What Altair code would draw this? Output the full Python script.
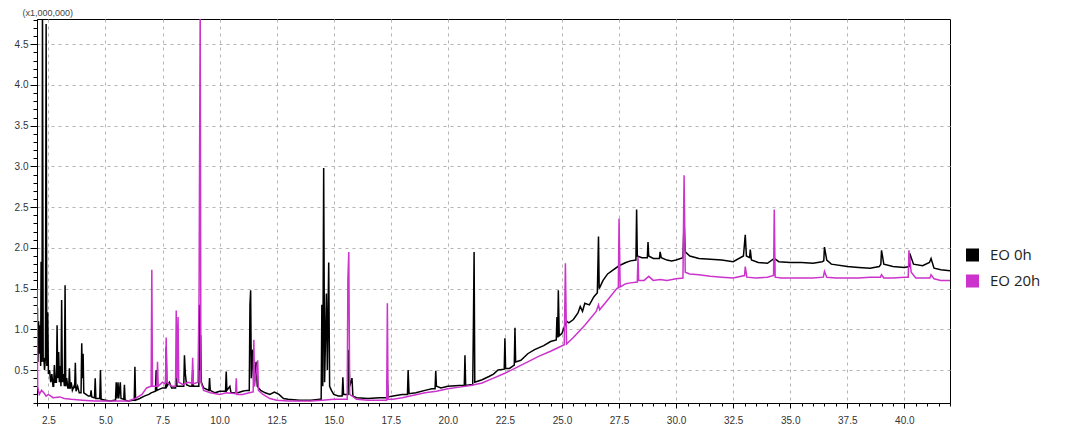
import altair as alt
import pandas as pd

# Retention time (min) and intensity (x1,000,000)
rt_0h = [
    2.00, 2.02, 2.04, 2.07, 2.10, 2.13, 2.16, 2.18, 2.20, 2.22,
    2.24, 2.27, 2.30, 2.33, 2.37, 2.40, 2.43, 2.47, 2.50, 2.55,
    2.60, 2.65, 2.70, 2.73, 2.76, 2.80, 2.85, 2.88, 2.91, 2.95,
    2.98, 3.02, 3.05, 3.08, 3.11, 3.15, 3.20, 3.23, 3.26, 3.30,
    3.35, 3.39, 3.42, 3.45, 3.50, 3.55, 3.62, 3.65, 3.68, 3.71,
    3.78, 3.85, 3.93, 3.96, 3.99, 4.02, 4.05, 4.15, 4.25, 4.34,
    4.37, 4.40, 4.50, 4.52, 4.55, 4.58, 4.70, 4.75, 4.78, 4.81,
    5.00, 5.20, 5.40, 5.44, 5.47, 5.50, 5.55, 5.58, 5.65, 5.68,
    5.80, 5.83, 5.86, 6.00, 6.26, 6.29, 6.32, 6.50, 6.70, 6.90,
    7.00, 7.19, 7.22, 7.25, 7.50, 7.63, 7.66, 7.69, 7.80, 7.90,
    8.07, 8.10, 8.13, 8.30, 8.43, 8.46, 8.50, 8.55, 8.70, 8.79,
    8.82, 8.85, 9.00, 9.09, 9.12, 9.15, 9.17, 9.20, 9.30, 9.53,
    9.56, 9.59, 9.80, 10.00, 10.26, 10.29, 10.32, 10.45, 10.50, 10.80,
    11.00, 11.20, 11.30, 11.33, 11.36, 11.39, 11.45, 11.50, 11.60, 11.65,
    11.80, 12.00, 12.20, 12.40, 12.60, 12.80, 13.00, 13.50, 14.00, 14.40,
    14.45, 14.48, 14.52, 14.56, 14.60, 14.68, 14.72, 14.78, 14.82, 14.90,
    15.00, 15.20, 15.37, 15.40, 15.43, 15.60, 15.63, 15.66, 15.70, 15.80,
    15.84, 16.00, 16.50, 17.00, 17.32, 17.35, 17.38, 17.60, 18.00, 18.23,
    18.26, 18.30, 18.60, 19.00, 19.30, 19.44, 19.47, 19.50, 19.70, 20.00,
    20.50, 20.72, 20.75, 20.78, 21.00, 21.09, 21.12, 21.15, 21.18, 21.50,
    21.80, 22.00, 22.20, 22.47, 22.50, 22.53, 22.70, 22.91, 22.94, 22.97,
    23.20, 23.50, 23.80, 24.20, 24.50, 24.75, 24.78, 24.81, 24.84, 24.88,
    25.00, 25.20, 25.30, 25.50, 25.70, 25.80, 25.90, 26.00, 26.20, 26.40,
    26.55, 26.60, 26.63, 26.80, 27.00, 27.20, 27.50, 27.80, 28.00, 28.24,
    28.27, 28.30, 28.50, 28.74, 28.77, 28.80, 29.00, 29.27, 29.30, 29.35,
    29.60, 29.80, 30.00, 30.30, 30.35, 30.40, 30.60, 31.00, 31.50, 32.00,
    32.50, 32.95, 33.03, 33.08, 33.22, 33.25, 33.30, 33.60, 34.00, 34.30,
    34.50, 35.00, 35.50, 36.00, 36.40, 36.47, 36.50, 36.60, 36.80, 37.50,
    38.00, 38.50, 38.90, 38.97, 39.00, 39.10, 39.50, 40.00, 40.21, 40.24,
    40.40, 40.80, 41.10, 41.17, 41.30, 41.60, 42.00,
]
int_0h = [
    0.55, 1.26, 0.60, 1.10, 0.70, 1.05, 0.55, 1.83, 0.60, 0.90,
    5.00, 0.60, 0.65, 0.50, 0.65, 4.75, 0.55, 1.21, 0.45, 0.50,
    0.35, 0.45, 0.30, 0.30, 0.56, 0.35, 0.35, 1.05, 0.40, 0.72,
    0.35, 0.55, 0.30, 1.36, 0.35, 0.45, 0.30, 1.54, 0.30, 0.40,
    0.28, 0.28, 0.52, 0.27, 0.35, 0.25, 0.30, 0.28, 0.59, 0.24,
    0.30, 0.22, 0.22, 0.83, 0.40, 0.70, 0.22, 0.20, 0.18, 0.18,
    0.25, 0.17, 0.16, 0.16, 0.40, 0.15, 0.15, 0.15, 0.50, 0.14,
    0.13, 0.12, 0.13, 0.13, 0.35, 0.15, 0.35, 0.15, 0.35, 0.15,
    0.14, 0.32, 0.13, 0.12, 0.13, 0.54, 0.13, 0.15, 0.18, 0.20,
    0.22, 0.24, 0.50, 0.25, 0.28, 0.28, 0.78, 0.30, 0.35, 0.28,
    0.28, 0.62, 0.30, 0.30, 0.30, 0.68, 0.45, 0.32, 0.30, 0.30,
    0.50, 0.30, 0.30, 0.30, 1.30, 0.50, 0.93, 0.35, 0.28, 0.25,
    0.40, 0.25, 0.22, 0.24, 0.24, 0.48, 0.25, 0.30, 0.22, 0.22,
    0.24, 0.25, 0.25, 1.30, 1.48, 0.40, 0.75, 0.30, 0.60, 0.30,
    0.25, 0.22, 0.20, 0.23, 0.20, 0.15, 0.14, 0.13, 0.13, 0.14,
    0.14, 1.30, 0.30, 2.98, 0.35, 1.44, 0.50, 1.82, 0.30, 0.25,
    0.20, 0.18, 0.18, 0.41, 0.20, 0.20, 0.20, 0.75, 0.30, 0.40,
    0.18, 0.16, 0.15, 0.16, 0.16, 0.38, 0.17, 0.18, 0.20, 0.20,
    0.50, 0.21, 0.22, 0.25, 0.27, 0.27, 0.49, 0.30, 0.28, 0.30,
    0.31, 0.31, 0.68, 0.31, 0.32, 0.32, 1.06, 1.95, 0.35, 0.38,
    0.42, 0.45, 0.50, 0.51, 0.89, 0.52, 0.52, 0.56, 1.02, 0.60,
    0.62, 0.70, 0.75, 0.80, 0.85, 0.87, 1.15, 0.90, 1.48, 0.92,
    0.95, 1.10, 1.08, 1.12, 1.20, 1.28, 1.22, 1.32, 1.30, 1.40,
    1.45, 2.14, 1.50, 1.60, 1.68, 1.72, 1.78, 1.82, 1.84, 1.85,
    2.47, 1.90, 1.88, 1.88, 2.07, 1.90, 1.87, 1.87, 1.95, 1.88,
    1.85, 1.84, 1.85, 1.88, 2.32, 1.95, 1.90, 1.87, 1.86, 1.85,
    1.83, 1.90, 2.16, 1.90, 1.88, 1.98, 1.85, 1.82, 1.81, 1.87,
    1.83, 1.82, 1.82, 1.81, 1.83, 1.84, 2.01, 1.85, 1.80, 1.77,
    1.76, 1.75, 1.77, 1.80, 1.97, 1.80, 1.77, 1.76, 1.77, 1.93,
    1.80, 1.78, 1.82, 1.87, 1.75, 1.73, 1.72,
]

rt_20h = [
    2.00, 2.03, 2.06, 2.10, 2.20, 2.30, 2.40, 2.50, 2.70, 3.00,
    3.20, 3.50, 4.00, 4.50, 5.00, 5.50, 6.00, 6.30, 6.60, 6.80,
    7.00, 7.03, 7.06, 7.25, 7.28, 7.31, 7.50, 7.63, 7.66, 7.69,
    7.90, 8.07, 8.10, 8.13, 8.18, 8.21, 8.40, 8.60, 8.79, 8.82,
    8.85, 9.05, 9.10, 9.15, 9.18, 9.30, 9.60, 10.00, 10.30, 10.70,
    10.73, 10.76, 11.00, 11.30, 11.47, 11.50, 11.53, 11.67, 11.70, 11.90,
    12.20, 12.50, 13.00, 14.00, 14.50, 15.00, 15.50, 15.59, 15.62, 15.66,
    15.70, 16.00, 16.50, 17.00, 17.32, 17.35, 17.38, 17.60, 18.00, 18.50,
    19.00, 19.50, 20.00, 20.50, 21.00, 21.50, 22.00, 22.50, 23.00, 23.50,
    24.00, 24.50, 24.80, 25.10, 25.15, 25.20, 25.50, 26.00, 26.50, 26.60,
    26.65, 27.00, 27.40, 27.47, 27.50, 27.55, 27.80, 28.00, 28.30, 28.33,
    28.36, 28.60, 28.80, 29.00, 29.30, 29.60, 30.00, 30.30, 30.35, 30.40,
    30.60, 31.00, 31.50, 32.00, 32.50, 33.00, 33.03, 33.10, 33.50, 34.00,
    34.27, 34.30, 34.34, 34.60, 35.00, 36.00, 36.45, 36.50, 36.60, 37.00,
    37.50, 38.00, 38.50, 38.95, 39.00, 39.10, 39.50, 40.00, 40.17, 40.20,
    40.30, 40.50, 41.00, 41.12, 41.17, 41.30, 41.60, 42.00,
]
int_20h = [
    1.50, 0.30, 0.25, 0.20, 0.25, 0.22, 0.18, 0.20, 0.16, 0.17,
    0.15, 0.14, 0.13, 0.12, 0.12, 0.12, 0.12, 0.15, 0.20, 0.28,
    0.30, 1.73, 0.30, 0.30, 0.60, 0.30, 0.35, 0.33, 0.90, 0.35,
    0.30, 0.30, 1.23, 0.40, 1.15, 0.35, 0.32, 0.35, 0.34, 0.65,
    0.33, 0.35, 1.41, 5.00, 0.35, 0.25, 0.22, 0.20, 0.22, 0.21,
    0.40, 0.20, 0.20, 0.22, 0.23, 0.87, 0.30, 0.62, 0.25, 0.20,
    0.15, 0.13, 0.12, 0.12, 0.13, 0.14, 0.14, 0.14, 1.62, 1.95,
    0.20, 0.14, 0.13, 0.13, 0.13, 1.32, 0.14, 0.14, 0.16, 0.19,
    0.22, 0.24, 0.27, 0.29, 0.31, 0.34, 0.40, 0.46, 0.53, 0.60,
    0.67, 0.73, 0.77, 0.81, 1.81, 0.82, 0.90, 1.05, 1.22, 1.30,
    1.24, 1.36, 1.50, 1.51, 2.36, 1.52, 1.56, 1.57, 1.58, 1.89,
    1.60, 1.60, 1.65, 1.60, 1.61, 1.60, 1.62, 1.63, 2.89, 1.70,
    1.68, 1.67, 1.65, 1.64, 1.63, 1.66, 1.77, 1.64, 1.63, 1.64,
    1.66, 2.47, 1.64, 1.63, 1.63, 1.63, 1.64, 1.71, 1.64, 1.63,
    1.63, 1.63, 1.64, 1.64, 1.67, 1.63, 1.63, 1.64, 1.64, 1.97,
    1.70, 1.63, 1.63, 1.63, 1.67, 1.62, 1.60, 1.60,
]
assert len(rt_0h) == len(int_0h) and len(rt_20h) == len(int_20h)

series_names = ["EO 0h", "EO 20h"]
series_colors = ["#000000", "#cc33cc"]

x_ticks = [round(2.0 + 0.5 * i, 1) for i in range(81)]
y_ticks = [round(0.1 * i, 1) for i in range(1, 49)]

df = pd.DataFrame({
    "rt": rt_0h + rt_20h,
    "intensity": int_0h + int_20h,
    "series": [series_names[0]] * len(rt_0h) + [series_names[1]] * len(rt_20h),
})

major_x = "abs(datum.value / 2.5 - round(datum.value / 2.5)) < 0.001"
major_y = "abs(datum.value * 2 - round(datum.value * 2)) < 0.001"

chart = alt.Chart(df).mark_line(strokeWidth=1.5, clip=True).encode(
    x=alt.X(
        "rt:Q",
        scale=alt.Scale(domain=[2.0, 42.0], nice=False, zero=False),
        axis=alt.Axis(
            values=x_ticks,
            title=None,
            labelExpr=f"{major_x} ? format(datum.value, '.1f') : ''",
            labelOverlap=False,
            tickSize={"condition": {"test": major_x, "value": 5}, "value": 3},
            gridOpacity={"condition": {"test": major_x, "value": 1}, "value": 0},
            labelPadding=7,
        ),
    ),
    y=alt.Y(
        "intensity:Q",
        scale=alt.Scale(domain=[0.095, 4.81], nice=False, zero=False),
        axis=alt.Axis(
            values=y_ticks,
            title="(x1,000,000)",
            titleAngle=0,
            titleAlign="left",
            titleBaseline="middle",
            titleX=-15,
            titleY=-7,
            titleFontSize=9,
            titleFontWeight="normal",
            titleFont="Liberation Sans",
            titleColor="#444444",
            labelExpr=f"{major_y} ? format(datum.value, '.1f') : ''",
            labelOverlap=False,
            tickSize={"condition": {"test": major_y, "value": 7}, "value": 4},
            gridOpacity={"condition": {"test": major_y, "value": 1}, "value": 0},
            labelPadding=2,
        ),
    ),
    color=alt.Color(
        "series:N",
        scale=alt.Scale(domain=series_names, range=series_colors),
        legend=alt.Legend(
            title=None,
            orient="none",
            legendX=928,
            legendY=228,
            symbolType="square",
            symbolSize=36,
            symbolStrokeWidth=7,
            labelFont="Open Sans",
            labelFontSize=15,
            labelColor="#222222",
            labelOffset=10,
            clipHeight=16,
            rowPadding=10,
        ),
    ),
).properties(
    width=913,
    height=384,
    autosize=alt.AutoSizeParams(type="none"),
    padding={"left": 29, "top": 11, "right": 108, "bottom": 27},
).configure_view(
    stroke="#000000",
    strokeWidth=1,
).configure_axis(
    domainColor="#000000",
    tickColor="#000000",
    gridColor="#b4b4b4",
    gridDash=[3, 4],
    labelFont="Liberation Sans",
    labelFontSize=10,
    labelColor="#333333",
)

chart.save("out.html", embed_options={"renderer": "svg", "actions": False})
